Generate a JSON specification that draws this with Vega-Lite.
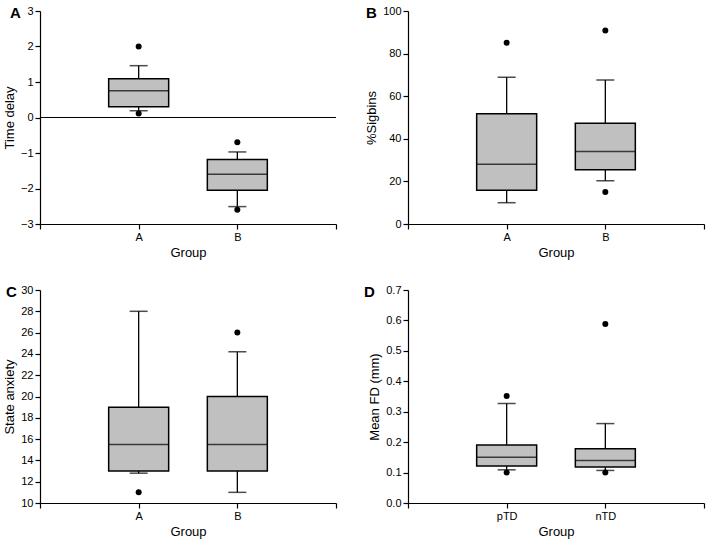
{
  "$schema": "https://vega.github.io/schema/vega-lite/v6.json",
  "background": "white",
  "padding": {"left": 3, "top": 5, "right": 2, "bottom": 5},
  "datasets": {
    "A_box": [
      {"group": "A", "lo": 0.19, "q1": 0.305, "med": 0.755, "q3": 1.09, "hi": 1.46},
      {"group": "B", "lo": -2.51, "q1": -2.05, "med": -1.6, "q3": -1.18, "hi": -0.97}
    ],
    "A_out": [
      {"group": "A", "value": 2.0},
      {"group": "A", "value": 0.11},
      {"group": "B", "value": -0.7},
      {"group": "B", "value": -2.6}
    ],
    "B_box": [
      {"group": "A", "lo": 10, "q1": 15.8, "med": 28, "q3": 51.8, "hi": 68.9},
      {"group": "B", "lo": 20.3, "q1": 25.5, "med": 34, "q3": 47.3, "hi": 67.6}
    ],
    "B_out": [
      {"group": "A", "value": 85.1},
      {"group": "B", "value": 90.9},
      {"group": "B", "value": 15}
    ],
    "C_box": [
      {"group": "A", "lo": 12.8, "q1": 13, "med": 15.5, "q3": 19, "hi": 28},
      {"group": "B", "lo": 11, "q1": 13, "med": 15.5, "q3": 20, "hi": 24.2}
    ],
    "C_out": [
      {"group": "A", "value": 11},
      {"group": "B", "value": 26}
    ],
    "D_box": [
      {"group": "pTD", "lo": 0.109, "q1": 0.122, "med": 0.15, "q3": 0.191, "hi": 0.327},
      {"group": "nTD", "lo": 0.107, "q1": 0.118, "med": 0.14, "q3": 0.178, "hi": 0.261}
    ],
    "D_out": [
      {"group": "pTD", "value": 0.352},
      {"group": "pTD", "value": 0.1},
      {"group": "nTD", "value": 0.588},
      {"group": "nTD", "value": 0.1}
    ]
  },
  "columns": 2,
  "spacing": {"column": 72, "row": 66},
  "bounds": "flush",
  "concat": [
    {
      "width": 296, "height": 213,
      "title": {"text": "A", "anchor": "start", "frame": "group", "dx": -30, "offset": -16, "baseline": "top", "fontSize": 15, "fontWeight": "bold", "font": "Liberation Sans", "color": "black"},
      "layer": [
        {"data": {"name": "A_box"}, "mark": {"type": "rule", "color": "black", "strokeWidth": 1.3},
          "encoding": {
            "x": {"field": "group", "type": "nominal", "scale": {"type": "point", "domain": ["l", "A", "B", "r"], "padding": 0}, "axis": {"labelExpr": "datum.value == 'l' || datum.value == 'r' ? '' : datum.value", "labelAngle": 0}, "title": "Group"},
            "y": {"field": "lo", "type": "quantitative", "scale": {"domain": [-3, 3], "nice": false}, "axis": {"values": [-3, -2, -1, 0, 1, 2, 3], "format": "d", "tickCount": 20, "labelOverlap": false}, "title": "Time delay"},
            "y2": {"field": "hi"}
          }},
        {"data": {"values": [{"zero": 0}]}, "mark": {"type": "rule", "color": "black", "strokeWidth": 1.2}, "encoding": {"y": {"field": "zero", "type": "quantitative"}}},
        {"data": {"name": "A_box"}, "mark": {"type": "bar", "width": 60, "fill": "#c0c0c0", "stroke": "black", "strokeWidth": 1.5},
          "encoding": {"x": {"field": "group", "type": "nominal"}, "y": {"field": "q1", "type": "quantitative"}, "y2": {"field": "q3"}}},
        {"data": {"name": "A_box"}, "mark": {"type": "tick", "size": 18, "thickness": 1.5, "color": "black"},
          "encoding": {"x": {"field": "group", "type": "nominal"}, "y": {"field": "lo", "type": "quantitative"}}},
        {"data": {"name": "A_box"}, "mark": {"type": "tick", "size": 18, "thickness": 1.5, "color": "black"},
          "encoding": {"x": {"field": "group", "type": "nominal"}, "y": {"field": "hi", "type": "quantitative"}}},
        {"data": {"name": "A_box"}, "mark": {"type": "tick", "size": 60, "thickness": 1.5, "color": "black"},
          "encoding": {"x": {"field": "group", "type": "nominal"}, "y": {"field": "med", "type": "quantitative"}}},
        {"data": {"name": "A_out"}, "mark": {"type": "point", "filled": true, "size": 36, "color": "black", "opacity": 1},
          "encoding": {"x": {"field": "group", "type": "nominal"}, "y": {"field": "value", "type": "quantitative"}}}
      ]
    },
    {
      "width": 296, "height": 213,
      "title": {"text": "B", "anchor": "start", "frame": "group", "dx": -42, "offset": -16, "baseline": "top", "fontSize": 15, "fontWeight": "bold", "font": "Liberation Sans", "color": "black"},
      "layer": [
        {"data": {"name": "B_box"}, "mark": {"type": "rule", "color": "black", "strokeWidth": 1.3},
          "encoding": {
            "x": {"field": "group", "type": "nominal", "scale": {"type": "point", "domain": ["l", "A", "B", "r"], "padding": 0}, "axis": {"labelExpr": "datum.value == 'l' || datum.value == 'r' ? '' : datum.value", "labelAngle": 0}, "title": "Group"},
            "y": {"field": "lo", "type": "quantitative", "scale": {"domain": [0, 100], "nice": false}, "axis": {"values": [0, 20, 40, 60, 80, 100], "format": "d", "tickCount": 20, "labelOverlap": false}, "title": "%Sigbins"},
            "y2": {"field": "hi"}
          }},
        {"data": {"name": "B_box"}, "mark": {"type": "bar", "width": 60, "fill": "#c0c0c0", "stroke": "black", "strokeWidth": 1.5},
          "encoding": {"x": {"field": "group", "type": "nominal"}, "y": {"field": "q1", "type": "quantitative"}, "y2": {"field": "q3"}}},
        {"data": {"name": "B_box"}, "mark": {"type": "tick", "size": 18, "thickness": 1.5, "color": "black"},
          "encoding": {"x": {"field": "group", "type": "nominal"}, "y": {"field": "lo", "type": "quantitative"}}},
        {"data": {"name": "B_box"}, "mark": {"type": "tick", "size": 18, "thickness": 1.5, "color": "black"},
          "encoding": {"x": {"field": "group", "type": "nominal"}, "y": {"field": "hi", "type": "quantitative"}}},
        {"data": {"name": "B_box"}, "mark": {"type": "tick", "size": 60, "thickness": 1.5, "color": "black"},
          "encoding": {"x": {"field": "group", "type": "nominal"}, "y": {"field": "med", "type": "quantitative"}}},
        {"data": {"name": "B_out"}, "mark": {"type": "point", "filled": true, "size": 36, "color": "black", "opacity": 1},
          "encoding": {"x": {"field": "group", "type": "nominal"}, "y": {"field": "value", "type": "quantitative"}}}
      ]
    },
    {
      "width": 296, "height": 213,
      "title": {"text": "C", "anchor": "start", "frame": "group", "dx": -34, "offset": -16, "baseline": "top", "fontSize": 15, "fontWeight": "bold", "font": "Liberation Sans", "color": "black"},
      "layer": [
        {"data": {"name": "C_box"}, "mark": {"type": "rule", "color": "black", "strokeWidth": 1.3},
          "encoding": {
            "x": {"field": "group", "type": "nominal", "scale": {"type": "point", "domain": ["l", "A", "B", "r"], "padding": 0}, "axis": {"labelExpr": "datum.value == 'l' || datum.value == 'r' ? '' : datum.value", "labelAngle": 0}, "title": "Group"},
            "y": {"field": "lo", "type": "quantitative", "scale": {"domain": [10, 30], "nice": false, "zero": false}, "axis": {"values": [10, 12, 14, 16, 18, 20, 22, 24, 26, 28, 30], "format": "d", "tickCount": 20, "labelOverlap": false}, "title": "State anxiety"},
            "y2": {"field": "hi"}
          }},
        {"data": {"name": "C_box"}, "mark": {"type": "bar", "width": 60, "fill": "#c0c0c0", "stroke": "black", "strokeWidth": 1.5},
          "encoding": {"x": {"field": "group", "type": "nominal"}, "y": {"field": "q1", "type": "quantitative"}, "y2": {"field": "q3"}}},
        {"data": {"name": "C_box"}, "mark": {"type": "tick", "size": 18, "thickness": 1.5, "color": "black"},
          "encoding": {"x": {"field": "group", "type": "nominal"}, "y": {"field": "lo", "type": "quantitative"}}},
        {"data": {"name": "C_box"}, "mark": {"type": "tick", "size": 18, "thickness": 1.5, "color": "black"},
          "encoding": {"x": {"field": "group", "type": "nominal"}, "y": {"field": "hi", "type": "quantitative"}}},
        {"data": {"name": "C_box"}, "mark": {"type": "tick", "size": 60, "thickness": 1.5, "color": "black"},
          "encoding": {"x": {"field": "group", "type": "nominal"}, "y": {"field": "med", "type": "quantitative"}}},
        {"data": {"name": "C_out"}, "mark": {"type": "point", "filled": true, "size": 36, "color": "black", "opacity": 1},
          "encoding": {"x": {"field": "group", "type": "nominal"}, "y": {"field": "value", "type": "quantitative"}}}
      ]
    },
    {
      "width": 296, "height": 213,
      "title": {"text": "D", "anchor": "start", "frame": "group", "dx": -44, "offset": -16, "baseline": "top", "fontSize": 15, "fontWeight": "bold", "font": "Liberation Sans", "color": "black"},
      "layer": [
        {"data": {"name": "D_box"}, "mark": {"type": "rule", "color": "black", "strokeWidth": 1.3},
          "encoding": {
            "x": {"field": "group", "type": "nominal", "scale": {"type": "point", "domain": ["l", "pTD", "nTD", "r"], "padding": 0}, "axis": {"labelExpr": "datum.value == 'l' || datum.value == 'r' ? '' : datum.value", "labelAngle": 0}, "title": "Group"},
            "y": {"field": "lo", "type": "quantitative", "scale": {"domain": [0, 0.7], "nice": false}, "axis": {"values": [0, 0.1, 0.2, 0.3, 0.4, 0.5, 0.6, 0.7], "format": ".1f", "tickCount": 20, "labelOverlap": false}, "title": "Mean FD (mm)"},
            "y2": {"field": "hi"}
          }},
        {"data": {"name": "D_box"}, "mark": {"type": "bar", "width": 60, "fill": "#c0c0c0", "stroke": "black", "strokeWidth": 1.5},
          "encoding": {"x": {"field": "group", "type": "nominal"}, "y": {"field": "q1", "type": "quantitative"}, "y2": {"field": "q3"}}},
        {"data": {"name": "D_box"}, "mark": {"type": "tick", "size": 18, "thickness": 1.5, "color": "black"},
          "encoding": {"x": {"field": "group", "type": "nominal"}, "y": {"field": "lo", "type": "quantitative"}}},
        {"data": {"name": "D_box"}, "mark": {"type": "tick", "size": 18, "thickness": 1.5, "color": "black"},
          "encoding": {"x": {"field": "group", "type": "nominal"}, "y": {"field": "hi", "type": "quantitative"}}},
        {"data": {"name": "D_box"}, "mark": {"type": "tick", "size": 60, "thickness": 1.5, "color": "black"},
          "encoding": {"x": {"field": "group", "type": "nominal"}, "y": {"field": "med", "type": "quantitative"}}},
        {"data": {"name": "D_out"}, "mark": {"type": "point", "filled": true, "size": 36, "color": "black", "opacity": 1},
          "encoding": {"x": {"field": "group", "type": "nominal"}, "y": {"field": "value", "type": "quantitative"}}}
      ]
    }
  ],
  "config": {
    "view": {"stroke": null},
    "font": "Liberation Sans",
    "axis": {
      "domainColor": "black", "tickColor": "black", "labelColor": "black", "titleColor": "black",
      "labelFont": "Liberation Sans", "titleFont": "Liberation Sans",
      "labelFontSize": 11, "titleFontSize": 13, "titleFontWeight": "normal", "labelOverlap": false,
      "grid": false, "tickSize": 5, "domainWidth": 1.2, "tickWidth": 1.2, "labelPadding": 2, "titlePadding": 4
    }
  }
}
